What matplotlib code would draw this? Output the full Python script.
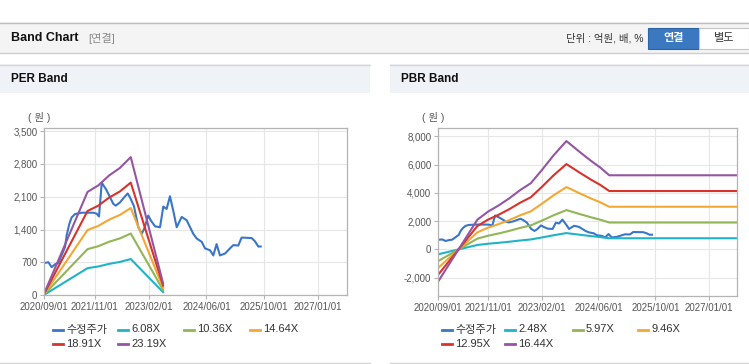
import matplotlib.pyplot as plt
import matplotlib.dates as mdates
from matplotlib.patches import Rectangle
from matplotlib.lines import Line2D
import pandas as pd

plt.rcParams['font.family'] = ['Liberation Sans', 'Noto Sans CJK KR']

# --- data ---
price_dates = ['2020-09-07', '2020-10-05', '2020-11-02', '2020-11-30', '2020-12-28', '2021-01-26',
               '2021-02-23', '2021-03-09', '2021-03-31', '2021-04-20', '2021-05-18', '2021-07-14',
               '2021-10-20', '2021-11-17', '2021-12-07', '2021-12-30', '2022-02-04', '2022-03-10',
               '2022-04-06', '2022-04-27', '2022-06-02', '2022-07-08', '2022-08-06', '2022-08-25',
               '2022-09-28', '2022-11-04', '2022-12-02', '2022-12-24', '2023-01-27', '2023-02-19',
               '2023-03-25', '2023-05-06', '2023-06-03', '2023-07-01', '2023-07-29', '2023-08-26',
               '2023-09-24', '2023-11-05', '2023-12-17', '2024-02-11', '2024-03-11', '2024-04-22',
               '2024-05-20', '2024-07-01', '2024-07-29', '2024-08-26', '2024-09-23', '2024-11-05',
               '2024-12-17', '2025-01-14', '2025-02-25', '2025-03-25', '2025-06-18', '2025-07-16',
               '2025-08-13', '2025-09-02']
price = [690, 705, 600, 660, 690, 860,
         1030, 1280, 1520, 1660, 1730, 1760,
         1760, 1740, 1680, 2400, 2260, 2090,
         1950, 1910, 1980, 2090, 2170, 2090,
         1900, 1450, 1310, 1420, 1700, 1590,
         1470, 1450, 1890, 1840, 2110, 1800,
         1450, 1670, 1600, 1310, 1210, 1140,
         1000, 960, 850, 1090, 850, 890,
         1000, 1070, 1060, 1230, 1220, 1150,
         1040, 1040]

per_dates = ['2020-09-01', '2021-09-01', '2021-12-01', '2022-03-01', '2022-06-01', '2022-09-01', '2023-06-01']
per_labels = ['6.08X', '10.36X', '14.64X', '18.91X', '23.19X']
per_6_08 = [12, 578, 614, 669, 711, 772, 67]
per_10_36 = [21, 984, 1046, 1140, 1212, 1316, 114]
per_14_64 = [29, 1391, 1479, 1610, 1713, 1859, 161]
per_18_91 = [38, 1796, 1910, 2080, 2212, 2402, 208]
per_23_19 = [46, 2203, 2342, 2551, 2713, 2945, 255]

pbr_dates = ['2020-09-01', '2021-08-01', '2021-11-01', '2022-02-01', '2022-05-01', '2022-08-01',
             '2022-11-01', '2023-02-01', '2023-05-15', '2023-09-01', '2024-01-01', '2024-04-01',
             '2024-06-15', '2024-09-01', '2027-09-01']
pbr_labels = ['2.48X', '5.97X', '9.46X', '12.95X', '16.44X']
pbr_2_48 = [-340, 317, 404, 471, 546, 632, 707, 843, 1004, 1156, 1032, 942, 875, 791, 791]
pbr_5_97 = [-818, 764, 973, 1134, 1313, 1522, 1701, 2030, 2418, 2782, 2484, 2269, 2107, 1904, 1904]
pbr_9_46 = [-1296, 1211, 1542, 1797, 2081, 2412, 2696, 3216, 3831, 4408, 3935, 3595, 3339, 3018, 3018]
pbr_12_95 = [-1774, 1658, 2111, 2461, 2849, 3302, 3691, 4403, 5245, 6035, 5387, 4921, 4571, 4131, 4131]
pbr_16_44 = [-2252, 2104, 2680, 3124, 3617, 4192, 4685, 5590, 6658, 7661, 6839, 6247, 5803, 5244, 5244]

x_ticks = ['2020-09-01', '2021-11-01', '2023-02-01', '2024-06-01', '2025-10-01', '2027-01-01']
x_range = ['2020-09-01', '2027-09-01']
per_yticks = [0, 700, 1400, 2100, 2800, 3500]
pbr_yticks = [-2000, 0, 2000, 4000, 6000, 8000]

price_label = '수정주가'
colors = ['#3a76c8', '#1fb3c7', '#92b556', '#f4a834', '#d8322d', '#9456a2']

W, H = 749, 364
fig = plt.figure(figsize=(W / 100, H / 100), dpi=100)


def fx(px):
    return px / W


def fy(py):
    return 1 - py / H


def rect(x0, y0, x1, y1, **kw):
    fig.add_artist(Rectangle((fx(x0), fy(y1)), fx(x1) - fx(x0), fy(y0) - fy(y1),
                             transform=fig.transFigure, **kw))


def hline(x0, x1, y, color, lw=1.0):
    fig.add_artist(Line2D([fx(x0), fx(x1)], [fy(y), fy(y)], transform=fig.transFigure,
                          color=color, lw=lw))


# header bar
rect(0, 22, W, 53, facecolor='#f4f4f4', edgecolor='none')
hline(0, W, 22.5, '#bcbcbc')
hline(0, W, 53, '#cdcdcd')
fig.text(fx(11), fy(38), 'Band Chart', fontsize=9, fontweight='bold', color='#111111', va='center')
fig.text(fx(88), fy(38), '[연결]', fontsize=8, color='#8a8a8a', va='center')
fig.text(fx(643), fy(38), '단위 : 억원, 배, %', fontsize=7.5, color='#333333', va='center', ha='right')
rect(648, 28, 699, 49, facecolor='#3a78c0', edgecolor='#2d64a6', lw=0.8)
fig.text(fx(673.5), fy(38.5), '연결', fontsize=8, fontweight='bold', color='white', va='center', ha='center')
rect(699, 28, 749, 49, facecolor='white', edgecolor='#c4c4c4', lw=0.8)
fig.text(fx(724), fy(38.5), '별도', fontsize=8, color='#333333', va='center', ha='center')

dates_x = pd.to_datetime(x_range)
tick_x = pd.to_datetime(x_ticks)


def panel(x0, x1, title, ax_box, band_dates, bands, labels, yticks, ylim, leg_x):
    # panel frame and title bar
    rect(x0, 64, x1, 93, facecolor='#eff2f7', edgecolor='none')
    hline(x0, x1, 64.5, '#d6d6d6')
    hline(x0, x1, 363, '#d6d6d6')
    fig.text(fx(x0 + 11), fy(79), title, fontsize=8.5, fontweight='bold', color='#111111', va='center')

    left, top, right, bottom = ax_box
    ax = fig.add_axes([fx(left), fy(bottom), fx(right) - fx(left), fy(top) - fy(bottom)])
    fig.text(fx(left - 5), fy(118), '( 원 )', fontsize=7.5, color='#555555', va='center', ha='center')

    ax.plot(pd.to_datetime(price_dates), price, color=colors[0], lw=1.5, label=price_label)
    bd = pd.to_datetime(band_dates)
    for vals, c, lab in zip(bands, colors[1:], labels):
        ax.plot(bd, vals, color=c, lw=1.5, label=lab)

    ax.set_xlim(dates_x[0], dates_x[1])
    ax.set_ylim(*ylim)
    ax.set_xticks(tick_x)
    ax.xaxis.set_major_formatter(mdates.DateFormatter('%Y/%m/%d'))
    ax.set_yticks(yticks)
    ax.set_yticklabels([f'{v:,}' for v in yticks])
    ax.grid(True, color='#e6e6e6', lw=0.8)
    ax.set_axisbelow(True)
    for s in ax.spines.values():
        s.set_color('#b4b4b4')
        s.set_linewidth(0.9)
    ax.tick_params(length=3, width=0.8, color='#b4b4b4', labelcolor='#555555', labelsize=7, pad=2)

    # legend in two rows, four columns
    names = [price_label] + labels
    rows = [329.5, 344]
    for i, (name, c) in enumerate(zip(names, colors)):
        lx = leg_x[i % 4]
        ly = rows[i // 4]
        fig.add_artist(Line2D([fx(lx), fx(lx + 10)], [fy(ly), fy(ly)], transform=fig.transFigure,
                              color=c, lw=2))
        fig.text(fx(lx + 13), fy(ly), name, fontsize=8, color='#333333', va='center')
    return ax


panel(0, 370, 'PER Band', (44.3, 128, 347, 295.3), per_dates,
      [per_6_08, per_10_36, per_14_64, per_18_91, per_23_19], per_labels,
      per_yticks, (0, 3565), [53, 118, 184, 250])
panel(390, 749, 'PBR Band', (438.3, 128.3, 737.3, 295.7), pbr_dates,
      [pbr_2_48, pbr_5_97, pbr_9_46, pbr_12_95, pbr_16_44], pbr_labels,
      pbr_yticks, (-3270, 8565), [442, 505, 573, 638])

fig.savefig('out.png', dpi=100)
